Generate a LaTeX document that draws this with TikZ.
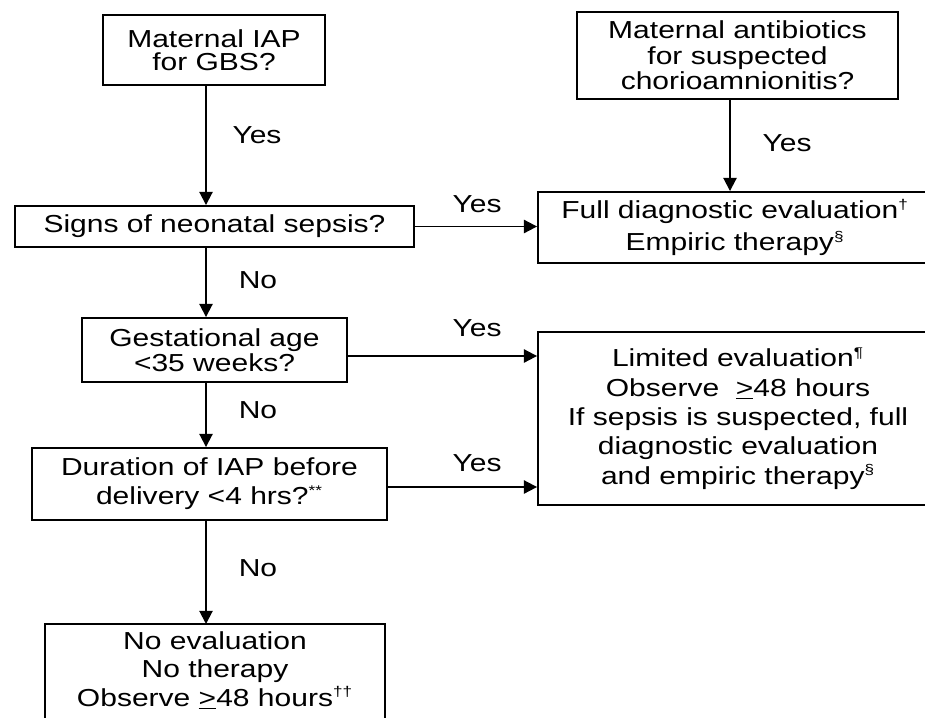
\documentclass[tikz,border=0pt]{standalone}
\usepackage{fontspec}
\setmainfont{Liberation Sans}[FakeStretch=1.22]
\usetikzlibrary{arrows.meta, positioning, calc}
\newcommand{\fnmark}[1]{\textsuperscript{\fontsize{8}{8}\selectfont #1}}

\begin{document}
\begin{tikzpicture}[x=0.02cm, y=-0.02cm,
    box/.style={draw, line width=1.1pt, align=center, inner sep=0pt},
    txt/.style={font=\fontsize{14}{#1}\selectfont},
    arr/.style={line width=1.1pt, -{Triangle[length=7.5pt,width=7.5pt]}},
    lbl/.style={font=\fontsize{14}{16}\selectfont}]
  \useasboundingbox (0,0) rectangle (925,717);
  \clip (0,0) rectangle (925,717);

  % Fragen links
  \node[box, txt=13, minimum width=4.44cm, minimum height=1.40cm] (iap) at (214,50) {Maternal IAP\\for GBS?};
  \node[box, txt=16, minimum width=7.98cm, minimum height=0.82cm] (sepsis) at (214.5,226.5) {Signs of neonatal sepsis?};
  \node[box, txt=14, minimum width=5.30cm, minimum height=1.28cm] (gest) at (214.5,350) {Gestational age\\<35 weeks?};
  \node[box, txt=16.4, minimum width=7.10cm, minimum height=1.44cm] (dur) at (209.5,484) {Duration of IAP before\\delivery <4 hrs?\fnmark{**}};
  \node[txt=16.2, align=center, inner sep=4pt, minimum width=6.8cm, anchor=north] (noeval) at (215,624) {No evaluation\\No therapy\\Observe \underline{>}48 hours\fnmark{††}};
  \draw[line width=1.1pt] (noeval.north west) rectangle ++(340,130);

  % Kasten rechts
  \node[box, txt=14.5, minimum width=6.42cm, minimum height=1.74cm] (chorio) at (737.5,55.5) {Maternal antibiotics\\for suspected\\chorioamnionitis?};
  \node[box, txt=18, minimum width=7.88cm, minimum height=1.42cm] (full) at (735,227.5) {Full diagnostic evaluation\fnmark{†}\\Empiric therapy\fnmark{§}};
  \node[box, txt=16.7, minimum width=8.00cm, minimum height=3.46cm] (limited) at (738,418.5) {Limited evaluation\fnmark{¶}\\Observe \ \underline{>}48 hours\\If sepsis is suspected, full\\diagnostic evaluation\\and empiric therapy\fnmark{§}};

  \coordinate (spine) at (206,0);
  \coordinate (drop) at (730,0);

  % Pfeile
  \draw[arr] (iap.south -| spine) -- (sepsis.north -| spine);
  \draw[arr] (sepsis.south -| spine) -- (gest.north -| spine);
  \draw[arr] (gest.south -| spine) -- (dur.north -| spine);
  \draw[arr] (dur.south -| spine) -- (noeval.north -| spine);
  \draw[arr] (chorio.south -| drop) -- (full.north -| drop);
  \draw[arr] (sepsis.east) -- (sepsis.east -| full.west);
  \draw[arr] ($(gest.east)+(0,6)$) -- ($(gest.east -| limited.west)+(0,6)$);
  \draw[arr] ($(dur.east)+(0,3)$) -- ($(dur.east -| limited.west)+(0,3)$);

  % Ja / Nein
  \node[lbl] (yes1) at (257,135) {Yes};
  \node[lbl] (yes2) at (787,143) {Yes};
  \node[lbl] (yes3) at (477,204) {Yes};
  \node[lbl] (no1) at (258,280) {No};
  \node[lbl] (yes4) at (477,328) {Yes};
  \node[lbl] (no2) at (258,410) {No};
  \node[lbl] (yes5) at (477,463) {Yes};
  \node[lbl] (no3) at (258,568) {No};
\end{tikzpicture}
\end{document}
